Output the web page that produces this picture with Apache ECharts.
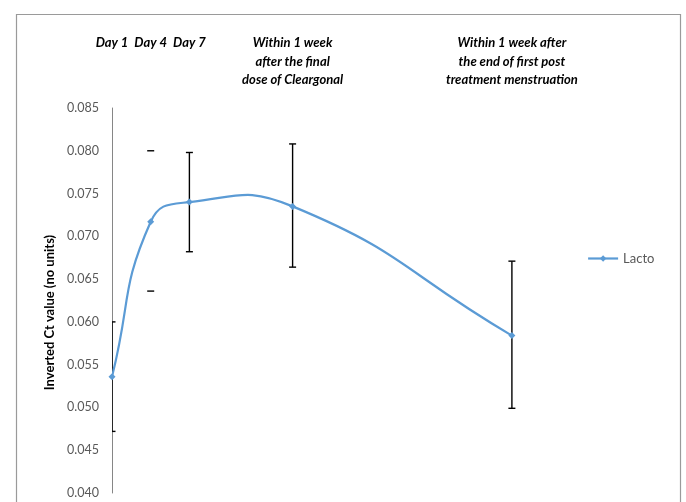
<!DOCTYPE html>
<html><head><meta charset="utf-8">
<script src="https://cdn.jsdelivr.net/npm/echarts@6/dist/echarts.min.js"></script>
<style>html,body{margin:0;padding:0;background:#fff}#c{width:686px;height:502px}</style>
</head><body><div id="c"></div>
<script>
var timeLabels = ['Day 1', 'Day 4', 'Day 7', 'Within 1 week\nafter the final\ndose of Cleargonal', 'Within 1 week after\nthe end of first post\ntreatment menstruation'];
var timeX = [1, 4, 7, 15, 32];
var lactoValues = [0.0536, 0.0717, 0.0740, 0.0735, 0.0584];
var errLow = [0.0472, 0.0636, 0.0682, 0.0664, 0.0499];
var errHigh = [0.0600, 0.0800, 0.0798, 0.0808, 0.0671];
var yTicks = [0.040, 0.045, 0.050, 0.055, 0.060, 0.065, 0.070, 0.075, 0.080, 0.085];

var chart = echarts.init(document.getElementById('c'));
var lineData = timeX.map(function (x, i) { return [x, lactoValues[i]]; });
var errData = timeX.map(function (x, i) { return [x, errLow[i], errHigh[i], i]; });
var font = 'Lato, "Open Sans", sans-serif';
var blue = '#5B9BD5';

function smoothCurve(params, api) {
  if (params.dataIndex !== 0) return null;
  var pts = lineData.map(function (d) { return api.coord(d); });
  var n = pts.length, s = 0.5, children = [];
  function cps(i) {
    var p = pts[i], prev = pts[Math.max(i - 1, 0)], next = pts[Math.min(i + 1, n - 1)];
    var vx = next[0] - prev[0], vy = next[1] - prev[1];
    var l0 = Math.hypot(p[0] - prev[0], p[1] - prev[1]);
    var l1 = Math.hypot(next[0] - p[0], next[1] - p[1]);
    var r = (l0 + l1) ? l1 / (l0 + l1) : 0.5;
    return {
      before: [p[0] - vx * s * (1 - r), p[1] - vy * s * (1 - r)],
      after: [p[0] + vx * s * r, p[1] + vy * s * r]
    };
  }
  var c = pts.map(function (p, i) { return cps(i); });
  for (var i = 0; i < n - 1; i++) {
    children.push({
      type: 'bezierCurve',
      shape: { x1: pts[i][0], y1: pts[i][1], x2: pts[i + 1][0], y2: pts[i + 1][1],
        cpx1: c[i].after[0], cpy1: c[i].after[1], cpx2: c[i + 1].before[0], cpy2: c[i + 1].before[1] },
      style: { stroke: blue, lineWidth: 2.2, fill: 'none' }
    });
  }
  return { type: 'group', children: children };
}

chart.setOption({
  animation: false,
  backgroundColor: '#fff',
  graphic: [{
    type: 'rect', left: 14, top: 12, silent: true,
    shape: { width: 664, height: 520 },
    style: { fill: 'none', stroke: '#9a9a9a', lineWidth: 1.2 }
  }],
  grid: { left: 112, right: 122.5, top: 108, bottom: 9, containLabel: false },
  legend: {
    left: 582, top: 247, itemWidth: 30, itemHeight: 8,
    textStyle: { fontFamily: font, fontSize: 13, color: '#595959' },
    lineStyle: { color: blue, width: 2.2, opacity: 1 },
    data: ['Lacto']
  },
  xAxis: [{
    type: 'value', min: 1, max: 36, show: false
  }, {
    type: 'value', min: 1, max: 36, position: 'top', offset: 74,
    axisLine: { show: false }, axisTick: { show: false }, splitLine: { show: false },
    axisLabel: {
      customValues: timeX, margin: 0, verticalAlign: 'top', align: 'center',
      fontFamily: font, fontSize: 13, fontWeight: 'bold', fontStyle: 'italic',
      color: '#000', lineHeight: 18.5, hideOverlap: false, showMinLabel: true, showMaxLabel: true,
      formatter: function (v) { var i = timeX.indexOf(v); return i >= 0 ? timeLabels[i] : ''; }
    }
  }],
  yAxis: {
    type: 'value', min: yTicks[0], max: yTicks[yTicks.length - 1], interval: 0.005,
    name: 'Inverted Ct value (no units)', nameLocation: 'middle', nameGap: 43, nameRotate: 90,
    nameTextStyle: { fontFamily: font, fontSize: 13, fontWeight: 'bold', color: '#000', padding: [0, 24, 0, 0] },
    axisLine: { show: true, lineStyle: { color: '#868686', width: 1 } },
    axisTick: { show: false }, splitLine: { show: false },
    axisLabel: { fontFamily: font, fontSize: 12.5, color: '#595959', margin: 13,
      formatter: function (v) { return v.toFixed(3); } }
  },
  series: [{
    name: 'Lacto', type: 'line', data: lineData,
    symbol: 'diamond', symbolSize: 7,
    itemStyle: { color: blue },
    lineStyle: { color: blue, width: 2.2, opacity: 0 },
    z: 4
  }, {
    type: 'custom', data: lineData, renderItem: smoothCurve, clip: true, z: 3, silent: true
  }, {
    type: 'custom', data: errData, clip: true, z: 2,
    renderItem: function (params, api) {
      var x = api.value(0);
      var lo = api.coord([x, api.value(1)]);
      var hi = api.coord([x, api.value(2)]);
      var idx = api.value(3);
      var cw = 3.5;
      var st = { stroke: '#000', lineWidth: 1.4 };
      var ch = [
        { type: 'line', shape: { x1: hi[0] - cw, y1: hi[1], x2: hi[0] + cw, y2: hi[1] }, style: st },
        { type: 'line', shape: { x1: lo[0] - cw, y1: lo[1], x2: lo[0] + cw, y2: lo[1] }, style: st }
      ];
      if (idx !== 1) {
        ch.push({ type: 'line', shape: { x1: hi[0], y1: hi[1], x2: lo[0], y2: lo[1] }, style: st });
      }
      return { type: 'group', children: ch };
    }
  }]
});
</script></body></html>
